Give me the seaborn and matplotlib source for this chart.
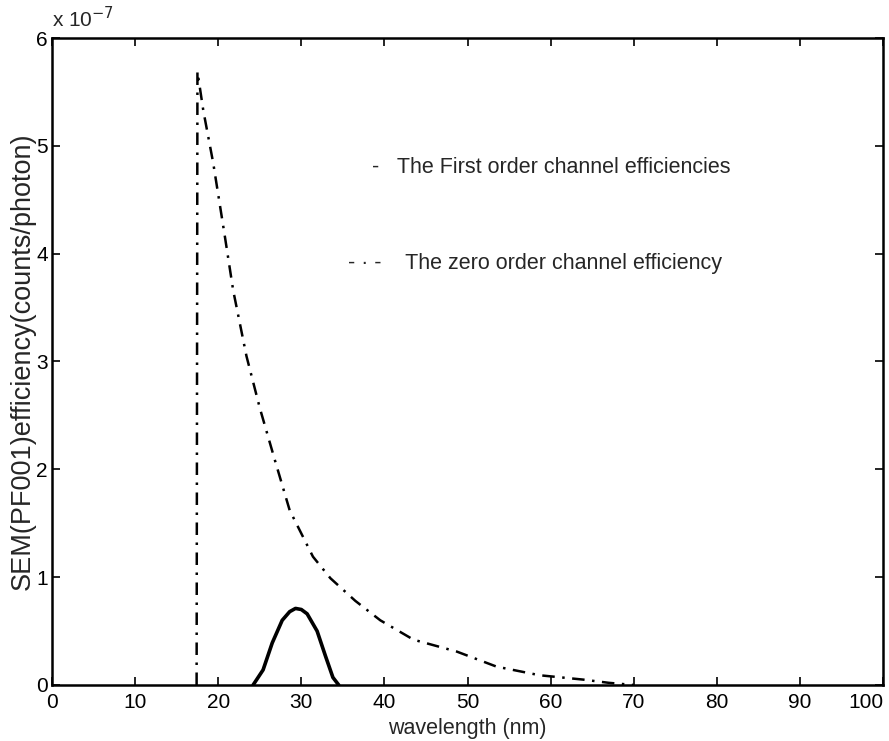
import matplotlib
matplotlib.use("Agg")
import matplotlib.pyplot as plt
import seaborn as sns
import pandas as pd

# zero order channel efficiency (dash-dot), units of 1e-7 counts/photon
zero_x = [17.4, 17.5, 18.2, 19.4, 20.8, 21.8, 23.4, 25.0, 26.8, 28.6, 31.4, 33.5,
          36.5, 39.5, 43.5, 48.7, 53.5, 58.7, 63.9, 67.0, 70.0]
zero_y = [0.0, 5.69, 5.33, 4.84, 4.16, 3.66, 3.05, 2.57, 2.09, 1.62, 1.19, 0.99,
          0.78, 0.60, 0.42, 0.31, 0.17, 0.09, 0.05, 0.02, 0.0]

# first order channel efficiency (solid)
first_x = [24.2, 25.4, 26.5, 27.7, 28.6, 29.3, 30.0, 30.7, 31.9, 32.9, 33.8, 34.5]
first_y = [0.0, 0.14, 0.39, 0.60, 0.68, 0.71, 0.70, 0.66, 0.50, 0.27, 0.07, 0.0]

x_ticks = list(range(0, 101, 10))
y_ticks = list(range(0, 7))

sns.set_theme(style="white")
plt.rcParams['font.family'] = ['Liberation Sans', 'DejaVu Sans']

fig = plt.figure(figsize=(8.89, 7.41), dpi=100)
ax = fig.add_axes([0.0585, 0.0756, 0.9348, 0.8731])

df_zero = pd.DataFrame({"x": zero_x, "y": zero_y})
df_first = pd.DataFrame({"x": first_x, "y": first_y})

sns.lineplot(data=df_zero, x="x", y="y", sort=False, ax=ax, color="black",
             linewidth=1.8, estimator=None)
ax.lines[-1].set_dashes([5, 3, 1, 3])
sns.lineplot(data=df_first, x="x", y="y", sort=False, ax=ax, color="black",
             linewidth=2.6, estimator=None)

ax.set_xlim(0, 100)
ax.set_ylim(0, 6)
ax.set_xticks(x_ticks)
ax.set_yticks(y_ticks)
ax.set_xticklabels([str(v) for v in x_ticks], fontsize=15)
ax.set_yticklabels([str(v) for v in y_ticks], fontsize=15)
ax.get_xticklabels()[-1].set_horizontalalignment("right")
ax.tick_params(direction="in", length=6, width=1.2, top=True, right=True,
               bottom=True, left=True, colors="black")
ax.tick_params(axis="x", pad=6)
ax.tick_params(axis="y", pad=3)
for s in ax.spines.values():
    s.set_visible(True)
    s.set_color("black")
    s.set_linewidth(1.8)

ax.set_xlabel("wavelength (nm)", fontsize=15.5, labelpad=4)
ax.set_ylabel("SEM(PF001)efficiency(counts/photon)", fontsize=19.5, labelpad=0)

ax.text(0.0, 1.01, r"x 10$^{-7}$", transform=ax.transAxes, fontsize=15,
        ha="left", va="bottom")

ax.text(38.5, 4.8, "-   The First order channel efficiencies", fontsize=15.5,
        ha="left", va="center")
ax.text(35.6, 3.91, "- · -    The zero order channel efficiency", fontsize=15.5,
        ha="left", va="center")

fig.savefig("out.png", dpi=100, facecolor="white")
